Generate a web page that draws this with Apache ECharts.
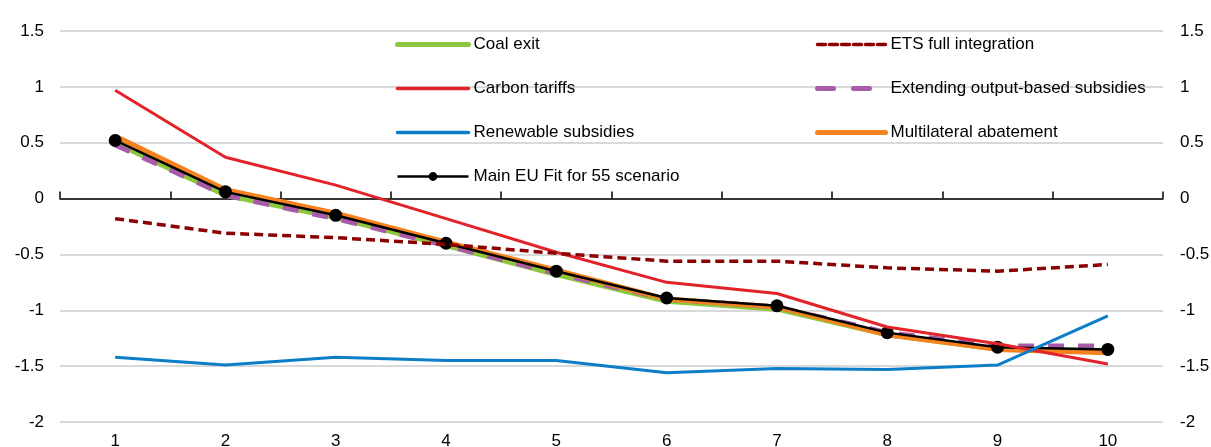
<!DOCTYPE html>
<html>
<head>
<meta charset="utf-8">
<script src="https://cdn.jsdelivr.net/npm/echarts@6/dist/echarts.min.js"></script>
<style>
html,body{margin:0;padding:0;background:#fff;}
#chart{width:1211px;height:447px;}
</style>
</head>
<body>
<div id="chart"></div>
<script>
var categories = ['1','2','3','4','5','6','7','8','9','10'];
var yTicks = [-2, -1.5, -1, -0.5, 0, 0.5, 1, 1.5];
var coalExit = [0.50, 0.03, -0.17, -0.42, -0.68, -0.92, -0.99, -1.22, -1.35, -1.36];
var carbonTariffs = [0.97, 0.37, 0.12, -0.18, -0.48, -0.75, -0.85, -1.15, -1.30, -1.48];
var renewableSubsidies = [-1.42, -1.49, -1.42, -1.45, -1.45, -1.56, -1.52, -1.53, -1.49, -1.05];
var mainFit55 = [0.52, 0.06, -0.15, -0.40, -0.65, -0.89, -0.96, -1.20, -1.33, -1.35];
var etsFull = [-0.18, -0.31, -0.35, -0.41, -0.49, -0.56, -0.56, -0.62, -0.65, -0.59];
var extendingOBS = [0.48, 0.03, -0.18, -0.42, -0.67, -0.90, -0.97, -1.20, -1.32, -1.32];
var multilateral = [0.56, 0.08, -0.13, -0.39, -0.64, -0.90, -0.97, -1.22, -1.35, -1.38];

var FONT = '"Liberation Sans", Arial, sans-serif';
var FS = 17;
var chart = echarts.init(document.getElementById('chart'));

function lineSeries(name, data, color, width, type, z) {
  return {
    name: name, type: 'line', data: data, xAxisIndex: 0, yAxisIndex: 0,
    symbol: 'none', smooth: false, z: z,
    lineStyle: {color: color, width: width, type: type, cap: 'butt'},
    itemStyle: {color: color},
    emphasis: {disabled: true}, animation: false
  };
}

var series = [
  lineSeries('Coal exit', coalExit, '#8DC63F', 5, 'solid', 2),
  lineSeries('Carbon tariffs', carbonTariffs, '#E2232A', 3, 'solid', 6),
  lineSeries('Renewable subsidies', renewableSubsidies, '#0C7EC8', 3, 'solid', 7),
  {
    name: 'Main EU Fit for 55 scenario', type: 'line', data: mainFit55, xAxisIndex: 0, yAxisIndex: 0,
    symbol: 'circle', symbolSize: 13, showSymbol: true, z: 5,
    lineStyle: {color: '#000000', width: 2.5},
    itemStyle: {color: '#000000'},
    emphasis: {disabled: true}, animation: false
  },
  lineSeries('ETS full integration', etsFull, '#8B0000', 3.5, [9, 5], 8),
  lineSeries('Extending output-based subsidies', extendingOBS, '#A85AAB', 5, [16, 14], 3),
  lineSeries('Multilateral abatement', multilateral, '#F5821F', 5, 'solid', 4)
];

function legItem(name, color, width, type) {
  return {name: name, itemStyle: {opacity: 0}, lineStyle: {color: color, width: width, type: type, cap: 'round'}};
}

var legendText = {fontFamily: FONT, fontSize: FS, color: '#000', lineHeight: 16};

chart.setOption({
  backgroundColor: '#ffffff',
  animation: false,
  textStyle: {fontFamily: FONT},
  grid: {left: 60, right: 48, top: 31, bottom: 25, containLabel: false, outerBoundsMode: 'none'},
  legend: [
    {
      data: [
        legItem('Coal exit', '#8DC63F', 5, 'solid'),
        legItem('Carbon tariffs', '#E2232A', 3.5, 'solid'),
        legItem('Renewable subsidies', '#0C7EC8', 3.5, 'solid'),
        {name: 'Main EU Fit for 55 scenario', itemStyle: {color: '#000'}, lineStyle: {color: '#000', width: 2.5, type: 'solid'}}
      ],
      orient: 'vertical', left: 395, top: 36, padding: 0, itemWidth: 71, itemHeight: 11, itemGap: 27,
      textStyle: legendText, selectedMode: false
    },
    {
      data: [
        legItem('ETS full integration', '#8B0000', 3.5, [8, 4]),
        legItem('Extending output-based subsidies', '#A85AAB', 5, [16, 20]),
        legItem('Multilateral abatement', '#F5821F', 5, 'solid')
      ],
      orient: 'vertical', left: 815, top: 36, padding: 0, itemWidth: 68, itemHeight: 11, itemGap: 27,
      textStyle: legendText, selectedMode: false
    }
  ],
  xAxis: [
    {
      type: 'category', data: categories, position: 'bottom', boundaryGap: true,
      axisLine: {show: true, onZero: true, onZeroAxisIndex: 0, lineStyle: {color: '#000', width: 1.5}},
      axisTick: {show: true, inside: true, length: 7, alignWithLabel: false, lineStyle: {color: '#000', width: 1.5}},
      axisLabel: {show: false}, splitLine: {show: false}
    },
    {
      type: 'category', data: categories, position: 'bottom', boundaryGap: true,
      axisLine: {show: false, onZero: false}, axisTick: {show: false},
      axisLabel: {show: true, margin: 11, fontFamily: FONT, fontSize: FS, color: '#000'},
      splitLine: {show: false}
    }
  ],
  yAxis: [
    {
      type: 'value', min: yTicks[0], max: yTicks[yTicks.length - 1], interval: 0.5, position: 'left',
      axisLine: {show: false}, axisTick: {show: false},
      axisLabel: {margin: 16, fontFamily: FONT, fontSize: FS, color: '#000'},
      splitLine: {show: true, lineStyle: {color: '#D9D9D9', width: 2}}
    },
    {
      type: 'value', min: yTicks[0], max: yTicks[yTicks.length - 1], interval: 0.5, position: 'right',
      axisLine: {show: false}, axisTick: {show: false},
      axisLabel: {margin: 17, fontFamily: FONT, fontSize: FS, color: '#000'},
      splitLine: {show: false}
    }
  ],
  series: series
});
</script>
</body>
</html>
